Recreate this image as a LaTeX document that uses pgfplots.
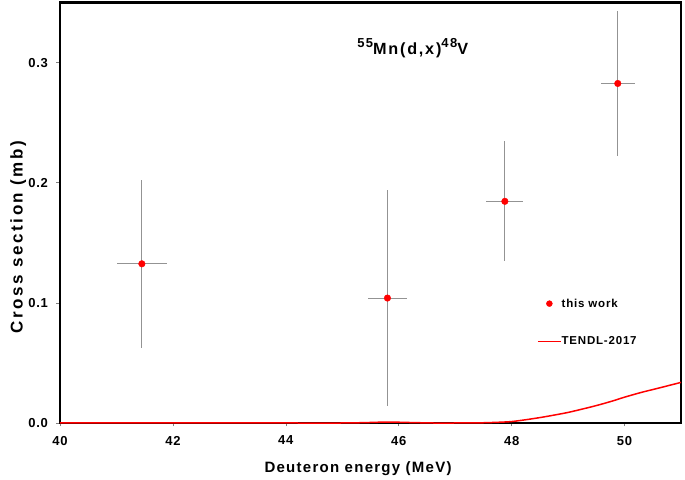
\documentclass[border=0pt]{standalone}
\usepackage{fontspec}
\setmainfont{Liberation Sans}
\usepackage{pgfplots}
\pgfplotsset{compat=1.18}
\pgfplotstableread{
x y ex ey
41.45 0.1325 0.44 0.070
45.80 0.1040 0.35 0.090
47.88 0.1845 0.33 0.050
49.88 0.2826 0.30 0.060
}\measured
\pgfplotstableread{
x y
40 0
41 0
42 0
43 0
44 0
45 0
45.4 0.0003
45.8 0.0008
46.2 0.0004
46.6 0
47 0
47.5 0.0002
48 0.0012
48.5 0.0045
49 0.0088
49.5 0.0145
49.8 0.0185
50 0.0215
50.3 0.0255
50.6 0.029
51 0.0338
}\tendl
\begin{document}
\begin{tikzpicture}
\begin{axis}[
  name=ax,
  scale only axis, width=621pt, height=420.5pt,
  xmin=40, xmax=51, ymin=0, ymax=0.35,
  xtick={40,42,...,50}, ytick={0,0.1,0.2,0.3},
  /pgf/number format/assume math mode=true,
  tick label style={font=\fontsize{13}{15}\selectfont\bfseries\addfontfeature{LetterSpace=6}},
  xticklabel style={yshift=-6pt},
  yticklabel style={xshift=-5pt, /pgf/number format/.cd, fixed, fixed zerofill, precision=1},
  xlabel={Deuteron energy (MeV)}, ylabel={Cross section (mb)},
  xlabel style={font=\fontsize{15}{18}\selectfont\bfseries\addfontfeature{LetterSpace=8.5},
    at={(axis description cs:0.48,-0.1182)}, anchor=base},
  ylabel style={font=\fontsize{17}{20}\selectfont\bfseries\addfontfeature{LetterSpace=15},
    at={(axis description cs:-0.0601,0.4423)}, anchor=base},
  tick align=outside, major tick length=3.5pt,
  tick style={gray, line width=0.6pt},
  xtick pos=left, ytick pos=left,
  axis line style={line width=2pt},
  clip=false,
  legend style={at={(0.768,0.296)}, anchor=north west, draw=none, fill=none,
    font=\fontsize{11.5}{13}\selectfont\bfseries\addfontfeature{LetterSpace=7},
    row sep=28pt, column sep=0pt, inner sep=0pt,
    nodes={inner sep=0pt}},
  legend cell align=left,
]
\draw[line width=2.2pt, black] (rel axis cs:0,0) -- (rel axis cs:0,1) -- (rel axis cs:1,1) -- (rel axis cs:1,0) -- cycle;
\addplot[only marks, mark=*, mark size=3.3pt, mark options={draw=red, fill=red},
  legend image code/.code={\fill[red] (11.5pt,0pt) circle (3pt);},
  error bars/.cd, x dir=both, x explicit, y dir=both, y explicit, error mark=none,
  error bar style={gray!85, line width=0.8pt}]
  table[x=x, y=y, x error=ex, y error=ey] {\measured};
\addlegendentry{this work}
\addplot[red, line width=1.5pt, smooth, tension=0.4,
  legend image post style={red, line width=1.5pt},
  legend image code/.code={\draw[red, line width=1.5pt] (0pt,0pt)--(23pt,0pt);}]
  table[x=x, y=y] {\tendl};
\addlegendentry{TENDL-2017}
\node[anchor=base west, inner sep=0pt, font=\fontsize{16.2}{19}\selectfont\bfseries\addfontfeature{LetterSpace=11}]
  at (axis cs:45.262,0.3069)
  {\raisebox{6.6pt}{\fontsize{13}{13}\selectfont 55}Mn(d,x)\raisebox{6.6pt}{\fontsize{13}{13}\selectfont 48}V};
\end{axis}
\path ([shift={(-60pt,-57pt)}]ax.south west) rectangle ([shift={(4pt,2.5pt)}]ax.north east);
\end{tikzpicture}
\end{document}
